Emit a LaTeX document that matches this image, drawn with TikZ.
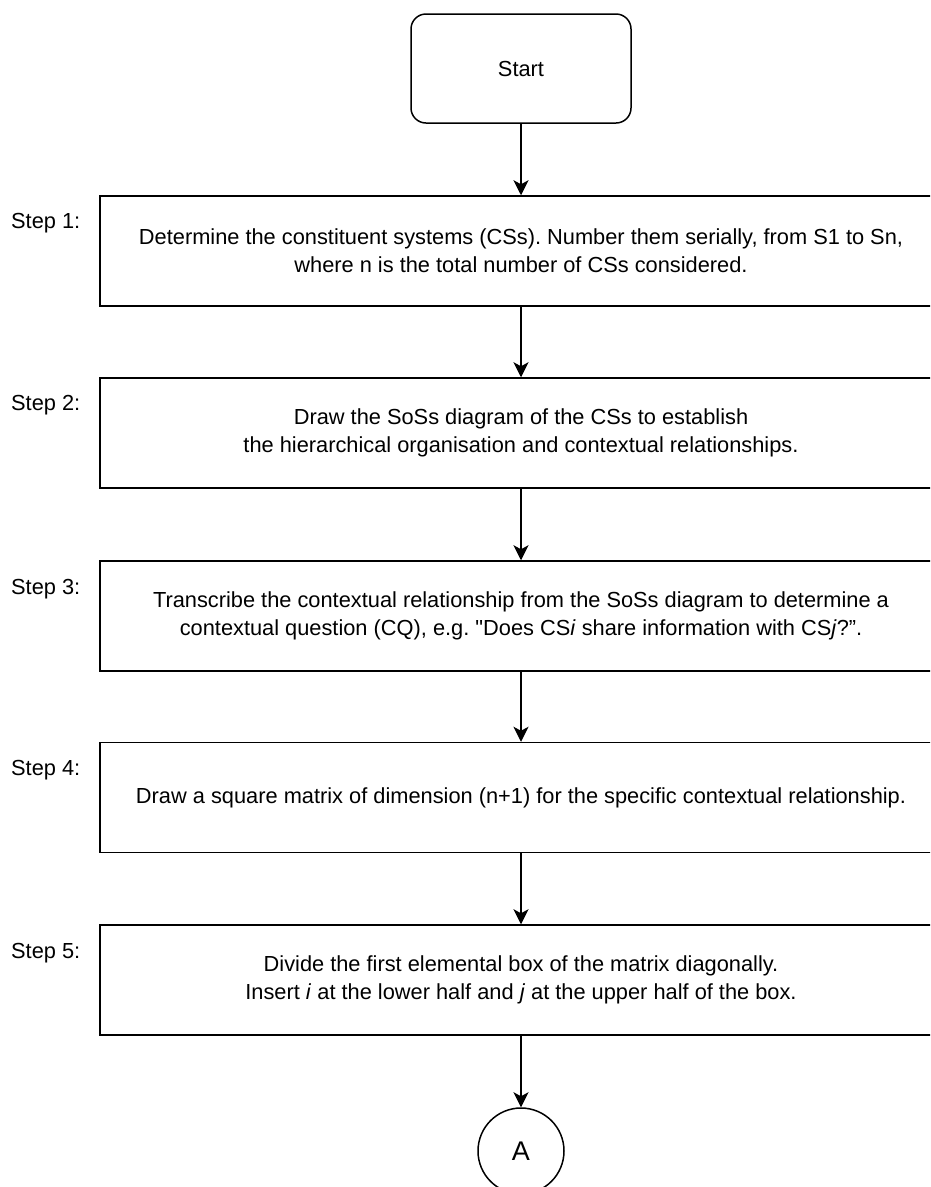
\documentclass[tikz,border=0pt]{standalone}
\usepackage{fontspec}
\setmainfont{Liberation Sans}[Ligatures=TeXOff]
\usetikzlibrary{arrows.meta}
\frenchspacing
\begin{document}
\begin{tikzpicture}[x=1pt,y=-1pt,
  every node/.style={font=\fontsize{21.8}{28}\selectfont, text=black},
  stepbox/.style={draw, line width=1.5pt, rectangle, minimum width=842pt, minimum height=110pt, align=center, inner sep=0pt},
  startbox/.style={draw, line width=1.5pt, rectangle, rounded corners=15pt, minimum width=220pt, minimum height=109pt, inner sep=0pt},
  connector/.style={draw, line width=1.5pt, -{Stealth[length=15pt, width=15pt, inset=4pt]}},
  steplabel/.style={anchor=west, inner sep=0pt}
]
\useasboundingbox (0,0) rectangle (930,1187);
\clip (0,0) rectangle (930,1187);

% start terminator
\node[startbox] (start) at (521,68.5) {Start};

% process steps
\node[stepbox] (s1) at (521,251) {Determine the constituent systems (CSs). Number them serially, from S1 to Sn,\\where n is the total number of CSs considered.};
\node[stepbox] (s2) at (521,433) {Draw the SoSs diagram of the CSs to establish\\the hierarchical organisation and contextual relationships.};
\node[stepbox] (s3) at (521,616) {Transcribe the contextual relationship from the SoSs diagram to determine a\\contextual question (CQ), e.g. "Does CS\textit{i} share information with CS\textit{j}?”.};
\node[stepbox] (s4) at (521,797.5) {Draw a square matrix of dimension (n+1) for the specific contextual relationship.};
\node[stepbox] (s5) at (521,980) {Divide the first elemental box of the matrix diagonally.\\Insert \textit{i} at the lower half and \textit{j} at the upper half of the box.};

% off-page connector
\node[draw, circle, line width=1.5pt, minimum size=86pt, inner sep=0pt, font=\fontsize{27}{30}\selectfont] (A) at (521,1151) {A};

% step labels
\node[steplabel] (l1) at (11,223) {Step 1:};
\node[steplabel] (l2) at (11,405) {Step 2:};
\node[steplabel] (l3) at (11,589) {Step 3:};
\node[steplabel] (l4) at (11,770) {Step 4:};
\node[steplabel] (l5) at (11,953) {Step 5:};

% connectors
\draw[connector] (start) -- (s1);
\draw[connector] (s1) -- (s2);
\draw[connector] (s2) -- (s3);
\draw[connector] (s3) -- (s4);
\draw[connector] (s4) -- (s5);
\draw[connector] (s5) -- (A);
\end{tikzpicture}
\end{document}
